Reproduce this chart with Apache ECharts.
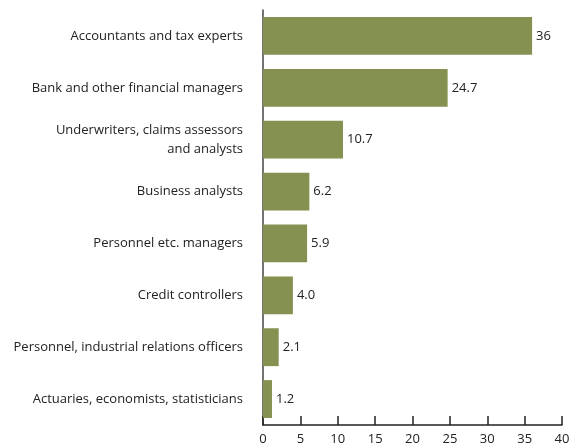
<!DOCTYPE html>
<html>
<head>
<meta charset="utf-8">
<script src="https://cdn.jsdelivr.net/npm/echarts@6/dist/echarts.min.js"></script>
<style>
  html, body { margin: 0; padding: 0; background: #fff; }
  #chart { width: 570px; height: 447px; }
</style>
</head>
<body>
<div id="chart"></div>
<script>
const categories = [
  'Accountants and tax experts',
  'Bank and other financial managers',
  'Underwriters, claims assessors\nand analysts',
  'Business analysts',
  'Personnel etc. managers',
  'Credit controllers',
  'Personnel, industrial relations officers',
  'Actuaries, economists, statisticians'
]
const values = [36, 24.7, 10.7, 6.2, 5.9, 4.0, 2.1, 1.2]
const valueLabels = ['36', '24.7', '10.7', '6.2', '5.9', '4.0', '2.1', '1.2']

const chart = echarts.init(document.getElementById('chart'))
chart.setOption({
  animation: false,
  textStyle: { fontFamily: 'Open Sans' },
  grid: { left: 263, right: 8, top: 10, bottom: 22, containLabel: false, outerBoundsMode: 'none' },
  xAxis: {
    type: 'value',
    min: 0,
    max: 40,
    interval: 5,
    splitLine: { show: false },
    axisLine: { show: true, lineStyle: { color: '#222', width: 1.5 } },
    axisTick: { show: true, inside: true, length: 9, lineStyle: { color: '#222', width: 1.5 } },
    axisLabel: { color: '#222', fontSize: 13, margin: 8 }
  },
  yAxis: {
    type: 'category',
    inverse: true,
    data: categories,
    axisLine: { show: true, lineStyle: { color: '#444', width: 1.5 } },
    axisTick: { show: false },
    axisLabel: { color: '#222', fontSize: 13, margin: 20, lineHeight: 19 }
  },
  series: [{
    type: 'bar',
    data: values,
    barWidth: '73%',
    itemStyle: { color: '#849150' },
    label: {
      show: true,
      position: 'right',
      distance: 4,
      color: '#222',
      fontSize: 13,
      formatter: p => valueLabels[p.dataIndex]
    }
  }]
})
</script>
</body>
</html>
